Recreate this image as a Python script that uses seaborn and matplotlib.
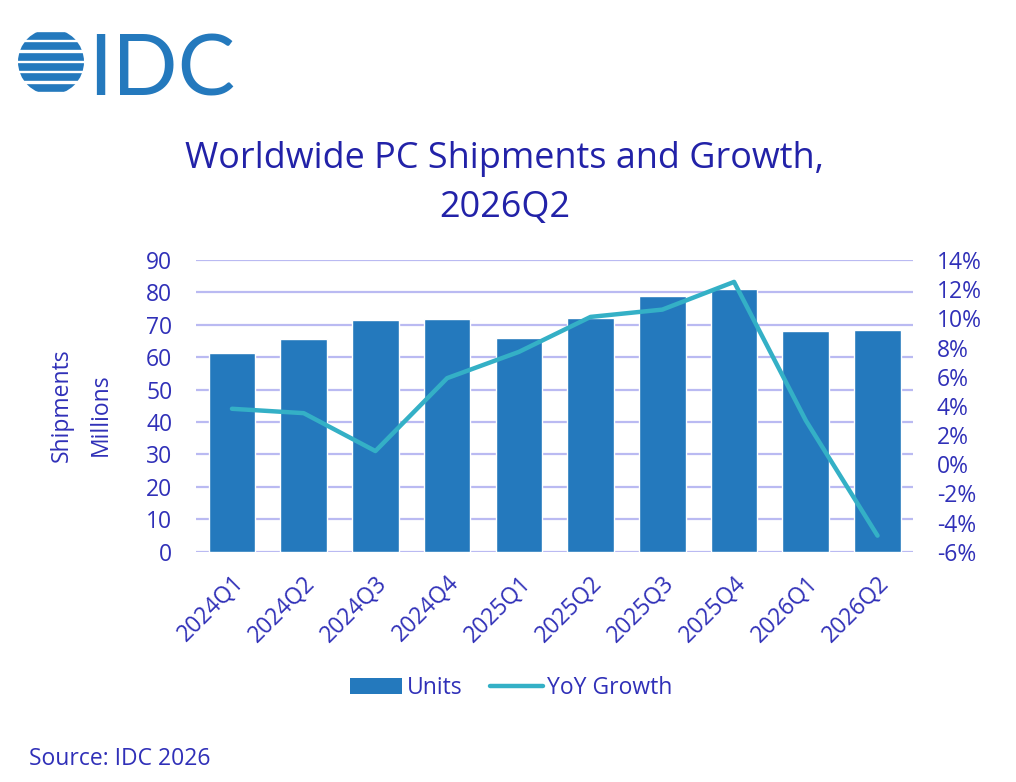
import matplotlib
matplotlib.use("Agg")
import matplotlib.pyplot as plt
import seaborn as sns
import numpy as np
import pandas as pd
from matplotlib.patches import Circle, Patch
from matplotlib.lines import Line2D

quarters = ["2024Q1", "2024Q2", "2024Q3", "2024Q4", "2025Q1",
            "2025Q2", "2025Q3", "2025Q4", "2026Q1", "2026Q2"]
units = [61.4, 65.7, 71.5, 71.8, 65.9, 72.1, 78.8, 81.0, 68.0, 68.4]
yoy_growth = [3.8, 3.5, 0.9, 5.9, 7.7, 10.1, 10.6, 12.5, 3.0, -4.9]
left_ticks = [0, 10, 20, 30, 40, 50, 60, 70, 80, 90]
right_ticks = [-6, -4, -2, 0, 2, 4, 6, 8, 10, 12, 14]

BAR = "#2479bd"
LINE = "#34b0c6"
TEXT = "#3030b8"
TITLE = "#2222a8"
GRID = "#babaf2"

sns.set_theme(style="white")
plt.rcParams["font.family"] = ["Open Sans", "DejaVu Sans"]

df = pd.DataFrame({"Quarter": quarters, "Units": units, "YoY": yoy_growth})

fig = plt.figure(figsize=(10.16, 7.82), dpi=100)
ax = fig.add_axes([0.193, 0.2945, 0.706, 0.373])

sns.barplot(data=df, x="Quarter", y="Units", color=BAR, width=0.65,
            saturation=1, ax=ax, zorder=2)
ax.set_ylim(0, 90)
ax.set_xlim(-0.5, len(quarters) - 0.5)
ax.set_yticks(left_ticks)
ax.yaxis.grid(True, color=GRID, linewidth=1.6, zorder=0)
ax.set_axisbelow(True)
for s in ax.spines.values():
    s.set_visible(False)
ax.tick_params(axis="y", length=0, labelsize=16.5, labelcolor=TEXT, pad=17)
ax.tick_params(axis="x", length=0, labelsize=16.5, labelcolor=TEXT, pad=14)
ax.set_xlabel("")
ax.set_ylabel("")
for lbl in ax.get_xticklabels():
    lbl.set_rotation(45)
    lbl.set_ha("right")
    lbl.set_rotation_mode("anchor")

ax2 = ax.twinx()
sns.lineplot(data=df, x="Quarter", y="YoY", color=LINE, linewidth=3.2,
             sort=False, ax=ax2, zorder=3)
ax2.set_ylim(-6, 14)
ax2.set_yticks(right_ticks)
ax2.set_yticklabels([f"{t}%" for t in right_ticks])
ax2.set_xlim(-0.5, len(quarters) - 0.5)
for s in ax2.spines.values():
    s.set_visible(False)
ax2.tick_params(axis="y", length=0, labelsize=16.5, labelcolor=TEXT, pad=17)
ax2.set_ylabel("")
ax2.grid(False)

# axis titles
fig.text(0.061, 0.482, "Shipments", rotation=90, ha="center", va="center",
         fontsize=16.5, color=TEXT)
fig.text(0.099, 0.47, "Millions", rotation=90, ha="center", va="center",
         fontsize=16.5, color=TEXT)

# title
fig.text(0.497, 0.785, "Worldwide PC Shipments and Growth,",
         ha="center", va="baseline", fontsize=25.9, color=TITLE)
fig.text(0.497, 0.7225, "2026Q2",
         ha="center", va="baseline", fontsize=25.9, color=TITLE)

# legend
handles = [Patch(facecolor=BAR, edgecolor="none"),
           Line2D([0], [0], color=LINE, linewidth=3.2)]
fig.legend(handles, ["Units", "YoY Growth"], loc="center",
           bbox_to_anchor=(0.503, 0.12), ncol=2, frameon=False,
           fontsize=16.5, labelcolor=TEXT, handlelength=2.3,
           handletextpad=0.2, columnspacing=1.2, handleheight=0.65)

# source
fig.text(0.029, 0.022, "Source: IDC 2026", ha="left", va="baseline",
         fontsize=16.5, color=TEXT)

# IDC logo
lax = fig.add_axes([0.0, 0.87, 0.25, 0.13])
lax.set_xlim(0, 254)
lax.set_ylim(102, 0)
lax.axis("off")
circ = Circle((51, 62), 33, transform=lax.transData)
for yy in np.linspace(36, 88, 6):
    ln, = lax.plot([10, 92], [yy, yy], color=BAR, linewidth=5.5,
                   solid_capstyle="butt")
    ln.set_clip_path(circ)
lax.text(88, 96, "IDC", fontsize=62, color=BAR, ha="left", va="baseline",
         family=["Lato", "DejaVu Sans"])

fig.savefig("out.png", dpi=100, facecolor="white")
